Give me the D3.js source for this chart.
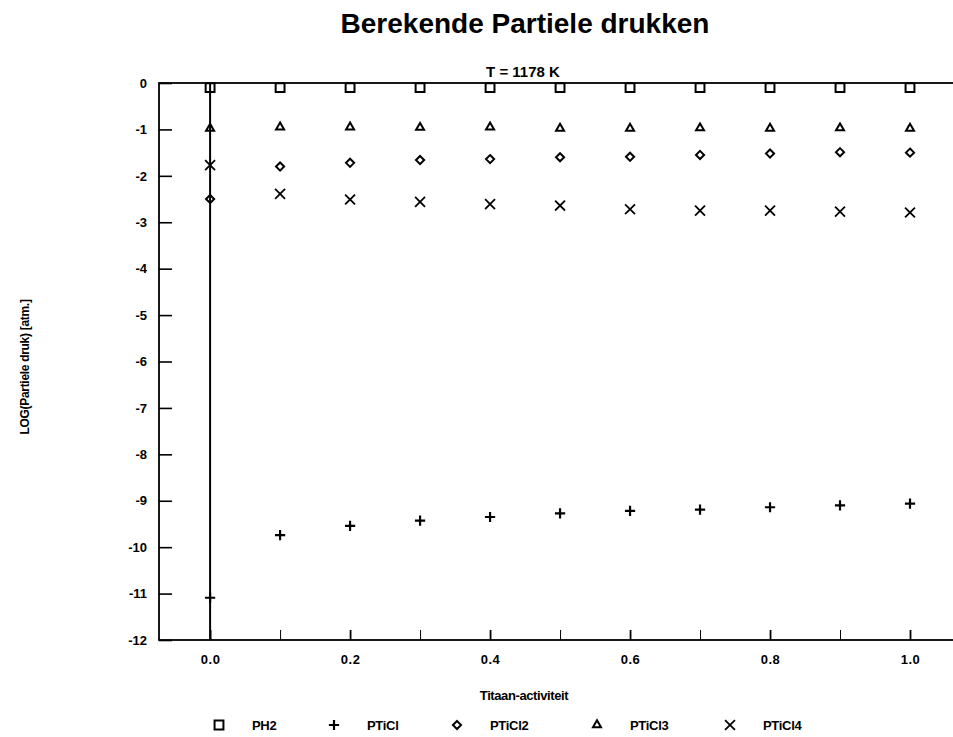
<!DOCTYPE html>
<head>
    <meta charset="utf-8">
    <script src="https://d3js.org/d3.v7.min.js"></script>
    <style>
        body { margin: 0; background: #fff; }
        text { font-family: "Liberation Sans", Arial, sans-serif; font-weight: bold; fill: #000; }
    </style>
</head>

<body>
    <div id="chart"></div>
</body>

<script>

    // data
    const activiteit = [0.0, 0.1, 0.2, 0.3, 0.4, 0.5, 0.6, 0.7, 0.8, 0.9, 1.0];
    const pH2    = [-0.1, -0.1, -0.1, -0.1, -0.1, -0.1, -0.1, -0.1, -0.1, -0.1, -0.1];
    const pTiCl  = [-11.09, -9.74, -9.54, -9.43, -9.35, -9.27, -9.22, -9.19, -9.14, -9.10, -9.06];
    const pTiCl2 = [-2.50, -1.80, -1.72, -1.66, -1.64, -1.60, -1.59, -1.55, -1.52, -1.49, -1.50];
    const pTiCl3 = [-0.98, -0.95, -0.95, -0.96, -0.95, -0.98, -0.98, -0.97, -0.98, -0.97, -0.98];
    const pTiCl4 = [-1.77, -2.39, -2.51, -2.56, -2.61, -2.64, -2.72, -2.75, -2.75, -2.77, -2.79];

    const seriesNames = ["PH2", "PTiCl", "PTiCl2", "PTiCl3", "PTiCl4"];
    const seriesValues = [pH2, pTiCl, pTiCl2, pTiCl3, pTiCl4];

    const xTicks = [0, 0.1, 0.2, 0.3, 0.4, 0.5, 0.6, 0.7, 0.8, 0.9, 1.0];
    const xTickLabels = ["0.0", "", "0.2", "", "0.4", "", "0.6", "", "0.8", "", "1.0"];
    const yTicks = [0, -1, -2, -3, -4, -5, -6, -7, -8, -9, -10, -11, -12];

    // symbol per series
    const symbols = [
        {type: d3.symbolSquare2, size: 100, sw: 2},
        {type: d3.symbolPlus, size: 36, sw: 2.2},
        {type: d3.symbolDiamond2, size: 42, sw: 2},
        {type: d3.symbolTriangle2, size: 46, sw: 2},
        {type: d3.symbolTimes, size: 66, sw: 1.8}
    ];

    const W = 953, H = 737;

    const svg = d3.select("#chart")
        .append("svg")
            .attr("width", W)
            .attr("height", H);

    const x = d3.scaleLinear()
        .domain([-0.073, 1.08])
        .range([159, 966]);

    const y = d3.scaleLinear()
        .domain([-12, 0])
        .range([640, 83]);

    // titles
    svg.append("text")
        .attr("x", 525).attr("y", 33)
        .attr("text-anchor", "middle")
        .style("font-size", "28px")
        .text("Berekende Partiele drukken");

    svg.append("text")
        .attr("x", 523).attr("y", 77)
        .attr("text-anchor", "middle")
        .style("font-size", "15px")
        .text("T = 1178 K");

    // Y axis
    const yAxis = svg.append("g")
        .attr("transform", `translate(${x(-0.073)},0)`)
        .call(d3.axisLeft(y).tickValues(yTicks).tickSize(-13).tickSizeOuter(0).tickPadding(12)
            .tickFormat(d => String(d)));
    yAxis.select(".domain").remove();
    yAxis.selectAll(".tick line").attr("stroke-width", 1.6);
    yAxis.selectAll(".tick text")
        .style("font-size", "13px")
        .style("font-family", "'Liberation Sans', Arial, sans-serif");

    // X axis
    const xAxis = svg.append("g")
        .attr("transform", `translate(0,${y(-12)})`)
        .call(d3.axisBottom(x).tickValues(xTicks).tickSize(-10).tickSizeOuter(0).tickPadding(15)
            .tickFormat((d, i) => xTickLabels[i]));
    xAxis.select(".domain").remove();
    xAxis.selectAll(".tick line")
        .attr("stroke-width", (d, i) => i % 2 === 0 ? 1.8 : 1);
    xAxis.selectAll(".tick text")
        .style("font-size", "13px")
        .style("letter-spacing", "0.5px")
        .style("font-family", "'Liberation Sans', Arial, sans-serif");

    // frame
    svg.append("rect")
        .attr("x", x(-0.073))
        .attr("y", y(0))
        .attr("width", x(1.08) - x(-0.073))
        .attr("height", y(-12) - y(0))
        .attr("fill", "none")
        .attr("stroke", "#000")
        .attr("stroke-width", 1.8);

    // vertical line at activiteit 0
    svg.append("line")
        .attr("x1", x(0)).attr("x2", x(0))
        .attr("y1", y(0)).attr("y2", y(-12))
        .attr("stroke", "#000")
        .attr("stroke-width", 2);

    // points
    seriesValues.forEach(function(vals, s){
        const sym = d3.symbol().type(symbols[s].type).size(symbols[s].size);
        svg.append("g")
            .selectAll("path")
            .data(vals)
            .join("path")
                .attr("transform", (d, i) => `translate(${x(activiteit[i])},${y(d)})`)
                .attr("d", sym)
                .attr("fill", "none")
                .attr("stroke", "#000")
                .attr("stroke-width", symbols[s].sw);
    });

    // axis titles
    svg.append("text")
        .attr("x", 524).attr("y", 700)
        .attr("text-anchor", "middle")
        .style("font-size", "13px")
        .style("letter-spacing", "-0.4px")
        .text("Titaan-activiteit");

    svg.append("text")
        .attr("transform", "translate(29,367) rotate(-90)")
        .attr("text-anchor", "middle")
        .style("font-size", "12px")
        .style("letter-spacing", "-0.3px")
        .text("LOG(Partiele druk) [atm.]");

    // legend
    const legendX = [219, 334, 457, 597, 730];
    const legend = svg.append("g")
        .selectAll("g")
        .data(seriesNames)
        .join("g")
            .attr("transform", (d, i) => `translate(${legendX[i]},725)`);

    legend.append("path")
        .attr("d", (d, i) => d3.symbol().type(symbols[i].type).size(symbols[i].size)())
        .attr("fill", "none")
        .attr("stroke", "#000")
        .attr("stroke-width", (d, i) => symbols[i].sw);

    legend.append("text")
        .attr("x", 33)
        .attr("y", 5)
        .style("font-size", "13px")
        .style("letter-spacing", "-0.3px")
        .text(d => d);

</script>
</html>
